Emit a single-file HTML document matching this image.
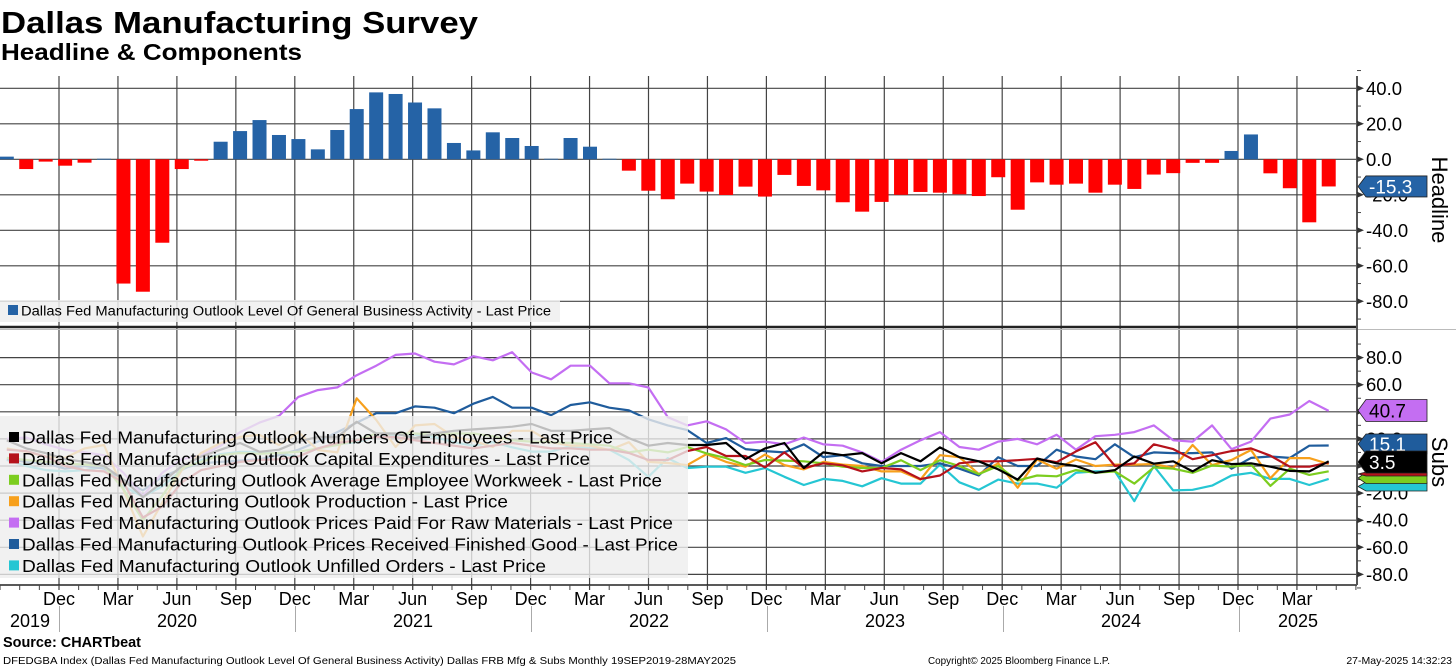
<!DOCTYPE html>
<html><head><meta charset="utf-8">
<style>
html,body{margin:0;padding:0;background:#fff;}
body{width:1456px;height:668px;overflow:hidden;font-family:"Liberation Sans",sans-serif;}
svg{display:block;}
</style></head>
<body>
<svg id="chart" width="1456" height="668" viewBox="0 0 1456 668" xmlns="http://www.w3.org/2000/svg" font-family="Liberation Sans, sans-serif">
  <text x="1" y="33" font-size="31" font-weight="bold" fill="#000" textLength="477" lengthAdjust="spacingAndGlyphs">Dallas Manufacturing Survey</text>
  <text x="1" y="60" font-size="23" font-weight="bold" fill="#000" textLength="301" lengthAdjust="spacingAndGlyphs">Headline &amp; Components</text>
  <g id="grid"></g>
  <g id="bars"></g>
  <g id="lines"></g>
  <g id="legends"></g>
  <g id="axes"></g>
  <text x="3" y="647" font-size="15" font-weight="bold" fill="#000" textLength="138" lengthAdjust="spacingAndGlyphs">Source: CHARTbeat</text>
  <text x="3" y="664" font-size="10.5" fill="#000" textLength="733" lengthAdjust="spacingAndGlyphs">DFEDGBA Index (Dallas Fed Manufacturing Outlook Level Of General Business Activity) Dallas FRB Mfg &amp; Subs  Monthly 19SEP2019-28MAY2025</text>
  <text x="928" y="664" font-size="10.5" fill="#000" textLength="182" lengthAdjust="spacingAndGlyphs">Copyright© 2025 Bloomberg Finance L.P.</text>
  <text x="1452" y="664" font-size="10.5" fill="#000" text-anchor="end">27-May-2025 14:32:23</text>
</svg>
<script>
const headline = [1.5,-5.5,-1.3,-3.6,-1.9,0.3,-70,-74.6,-47,-5.5,-0.8,9.9,15.9,22.1,13.7,11.4,5.6,16.5,28.3,37.7,36.8,32,28.7,9.2,5,15.2,12,7.5,0.3,12,7.1,0.3,-6.4,-17.7,-22.5,-13.7,-18.2,-20.1,-15.4,-21,-8.8,-15,-17.5,-24.2,-29.5,-24,-20,-18.4,-18.8,-19.7,-20.7,-10.1,-28.4,-13,-14.3,-13.7,-18.8,-14.3,-16.7,-8.6,-7.8,-2,-2,4.7,14,-7.9,-16.3,-35.5,-15.3];
const employment = [19,13,9.5,5,3,0,-10,-23,-12,0,7,12,17,10.5,12,18,21.5,21.5,32.6,24,24,20.6,24,26,27,28,29,31,26,26,27,28,20.6,15,17,15.5,15.5,17,5,13,17,-1.5,10,8,9.5,2,9.5,3.5,13.7,6.5,3.5,-2.5,-10,5.5,2,0,-5,-3,7,1.7,3.5,-4,4.3,1.4,2,-0.5,-3.6,-4,3.5];
const capex = [12,11,7,0,-3,-4,-12,-38,-30,-12,-3,0,3,4.4,5,7,13,17,19,21.5,21.5,19,17,15,13,15,17,15,13,13,12,12,9.6,4.4,4.4,11,14,7.4,7.4,-1,10,-1.5,2,0.5,-4,-1.5,-2.5,-9.7,-7,2,3.5,3.5,4.3,5.3,2.8,10.8,17.6,0,2,16,12.5,5,8,11,13,7.6,-0.5,-0.5,2.5];
const workweek = [6,4.4,3,2,1,0,-17,-40,-22,-1.5,3,8,9.6,9,9.6,10.5,13,15.5,19,24,24,24,23,24,24,22,19,18,17.6,17,16,15,10,12,10,14,9.3,5.8,0.7,4.4,4,3.5,2,-0.5,-1.5,-1.5,4.3,-3,4.3,0,-6,0,-10.8,-7,-7.6,-3,-5,-4,-13,-1,-2,-5,0.4,-0.5,1,-14.7,-2,-6.6,-3.9];
const production = [13,10.5,7,6,13,15.5,-17.6,-52,-27,-3,9.6,17,21.5,23,15.5,25,11.8,10,50,34,14,30,31,21.5,18.6,14,26,26,17.6,15,15,11.8,17.6,3,2.2,0.7,8.8,3,-0.5,8.5,0.7,-2.5,3,1,0,-4,-4,-10,8,6.5,-6,2,-16,4.8,-2,4.8,0,1,1,1.5,-1.5,15.5,0.7,4.4,11.8,-9,5.8,5.8,1.5];
const pricesPaid = [20,21,16,12,10,8,-5,-22,-5,5,8,15,25,32,37,51,56,58,67,74,82,83,77,75,81,78,84,69,64,74,74,61,61,58,36,30,33,27,17,18,16,21,16,15,10,3,12,19,25,14,12,18,20,16,23,12,22,23,25,30,19,18,30,12.5,18,35,38,48,40.7];
const pricesReceived = [5,3,2,-2,0,-2,-10,-18,-8,-2,2,3,4,5,8,12,18,25,32,39,39,44,43,39,46,51,43,43,37.5,45,47,43,41,34.5,30,26.5,17,20.6,12.5,11,10,16,6.6,8,2,0,0,0,2,-2,-7,6.5,0,0,12,7,5,16,6.5,10,9.5,9.5,10,-2,6,7,6,15,15.1];
const unfilled = [4.4,0,-3,-4,-3,-0.5,-15,-22.6,-15,-3,4.4,8.8,10.5,10.5,9,7,13,16,17.6,21.5,23,23,21.5,17.6,15,17.6,13.8,10.6,10.6,14.7,13,12,4.4,-8,5.8,-1.5,-0.5,-0.5,-5,-1.5,-8,-14,-9.5,-11,-15,-9,-13,-13,1,-12,-17.6,-10,-13,-13,-16,-5,-4,-4,-26,0,-18,-17.6,-14.5,-7,-5,-9.5,-9.5,-14,-9.5];
const topTicks = [40,20,0,-20,-40,-60,-80];
const bottomTicks = [80,60,40,20,0,-20,-40,-60,-80];
const monthLabels = ["Dec","Mar","Jun","Sep"];
const yearLabels = ["2019","2020","2021","2022","2023","2024","2025"];

const NS = "http://www.w3.org/2000/svg";
function mk(tag, attrs, parent){const e=document.createElementNS(NS,tag);for(const k in attrs)e.setAttribute(k,attrs[k]);parent.appendChild(e);return e;}
const xOf = i => 6.8 + 19.44*i;
const yTop = v => 159.3 - 1.775*v;
const yBot = v => 466 - 1.355*v;
const PR = 1357;
const grid = document.getElementById('grid');
const bars = document.getElementById('bars');
const lines = document.getElementById('lines');
const legends = document.getElementById('legends');
const axes = document.getElementById('axes');

for(let k=0;k<22;k++){
  const x = 59 + 58.95*k;
  const l = mk('line',{x1:x,x2:x,y1:76,y2:590,stroke:'#444','stroke-width':1.2},grid);
  
  
}
topTicks.forEach(v=>{
  const l = mk('line',{x1:0,x2:PR,y1:yTop(v),y2:yTop(v),stroke:'#444','stroke-width':1.2},grid);
  
  
});
bottomTicks.forEach(v=>{
  const l = mk('line',{x1:0,x2:PR,y1:yBot(v),y2:yBot(v),stroke:'#444','stroke-width':1.2},grid);
  
  
});

headline.forEach((v,i)=>{
  const y0=yTop(0), y1=yTop(v);
  const r = mk('rect',{x:xOf(i)-7,y:Math.min(y0,y1),width:14,height:Math.max(0.8,Math.abs(y1-y0)),fill:v>=0?'#2563a6':'#ff0000'},bars);
  
  
});

const series = [
  {d:unfilled,c:'#25c6d3',n:'unfilled-orders-line'},
  {d:pricesReceived,c:'#1f5c9c',n:'prices-received-line'},
  {d:pricesPaid,c:'#c46ef2',n:'prices-paid-line'},
  {d:production,c:'#f7a01c',n:'production-line'},
  {d:workweek,c:'#7ccd1f',n:'workweek-line'},
  {d:capex,c:'#b5121b',n:'capex-line'},
  {d:employment,c:'#000000',n:'employment-line'}
];
series.forEach(s=>{
  const pts = s.d.map((v,i)=>xOf(i).toFixed(1)+','+yBot(v).toFixed(1)).join(' ');
  const p = mk('polyline',{points:pts,fill:'none',stroke:s.c,'stroke-width':2.2,'stroke-linejoin':'round'},lines);
  
  
});

const tl = mk('rect',{x:0,y:300,width:560,height:22,fill:'rgba(238,238,238,0.85)'},legends);


mk('rect',{x:8,y:305,width:10,height:10,fill:'#2563a6'},legends);
const tlt = mk('text',{x:21,y:315.5,'font-size':13.5,fill:'#000',textLength:530,lengthAdjust:'spacingAndGlyphs'},legends);
tlt.textContent='Dallas Fed Manufacturing Outlook Level Of General Business Activity - Last Price';



const bl = mk('rect',{x:0,y:416,width:688,height:162,fill:'rgba(238,238,238,0.8)'},legends);


const legItems = [
  ['#000000','Dallas Fed Manufacturing Outlook Numbers Of Employees - Last Price',591],
  ['#b5121b','Dallas Fed Manufacturing Outlook Capital Expenditures - Last Price',568],
  ['#7ccd1f','Dallas Fed Manufacturing Outlook Average Employee Workweek - Last Price',640],
  ['#f7a01c','Dallas Fed Manufacturing Outlook Production - Last Price',486],
  ['#c46ef2','Dallas Fed Manufacturing Outlook Prices Paid For Raw Materials - Last Price',651],
  ['#1f5c9c','Dallas Fed Manufacturing Outlook Prices Received Finished Good - Last Price',656],
  ['#25c6d3','Dallas Fed Manufacturing Outlook Unfilled Orders - Last Price',524]
];
legItems.forEach((it,k)=>{
  const y = 437 + 21.4*k;
  mk('rect',{x:9,y:y-5,width:10,height:10,fill:it[0]},legends);
  const t = mk('text',{x:22,y:y+6.5,'font-size':17.5,fill:'#000',textLength:it[2],lengthAdjust:'spacingAndGlyphs'},legends);
  t.textContent = it[1];
  
  
});

mk('line',{x1:0,x2:PR,y1:327,y2:327,stroke:'#222','stroke-width':2.5},axes);
mk('line',{x1:0,x2:1456,y1:329.5,y2:329.5,stroke:'#bbb','stroke-width':1},axes);
mk('line',{x1:0,x2:PR,y1:585,y2:585,stroke:'#222','stroke-width':1.5},axes);
mk('line',{x1:PR,x2:PR,y1:76,y2:585,stroke:'#555','stroke-width':2},axes);
for(let i=0;i<70;i++){
  const x = 59 + 19.65*i;
  if(x>PR) break;
  mk('line',{x1:x,x2:x,y1:585,y2:590,stroke:'#444','stroke-width':1},axes);
}
for(let i=1;i<=3;i++){const x=59-19.65*i; if(x>0) mk('line',{x1:x,x2:x,y1:585,y2:590,stroke:'#444','stroke-width':1},axes);}
[59,295,531,767,1003,1239].forEach(x=>{
  mk('line',{x1:x+0.5,x2:x+0.5,y1:606,y2:632,stroke:'#aaa','stroke-width':1},axes);
});
for(let k=0;k<22;k++){
  const x = 59 + 58.95*k;
  const t = mk('text',{x:x,y:605,'font-size':18,'text-anchor':'middle',fill:'#000'},axes);
  t.textContent = monthLabels[k%4];
  
  
}
const yearX = [30,177,413,649,885,1121,1298];
yearLabels.forEach((lab,k)=>{
  const t = mk('text',{x:yearX[k],y:627,'font-size':18,'text-anchor':'middle',fill:'#000'},axes);
  t.textContent = lab;
  
  
});
function rightTick(y,label,name){
  mk('polygon',{points:`${PR},${y-3} ${PR+7},${y} ${PR},${y+3}`,fill:'#333'},axes);
  const t = mk('text',{x:PR+9,y:y+6.5,'font-size':18.5,fill:'#000'},axes);
  t.textContent = label;
  
  
}
topTicks.forEach(v=>rightTick(yTop(v),v.toFixed(1),'top-y-tick-label'));
bottomTicks.forEach(v=>rightTick(yBot(v),v.toFixed(1),'bottom-y-tick-label'));
for(let v=-90;v<=50;v+=10){ if(v%20) mk('line',{x1:PR,x2:PR+4,y1:yTop(v),y2:yTop(v),stroke:'#444'},axes); }
for(let v=-90;v<=90;v+=10){ if(v%20) mk('line',{x1:PR,x2:PR+4,y1:yBot(v),y2:yBot(v),stroke:'#444'},axes); }

const ht = mk('text',{x:1432,y:200,'font-size':22,'text-anchor':'middle',fill:'#000',transform:'rotate(90 1432 200)'},axes);
ht.textContent='Headline';


const st = mk('text',{x:1432,y:462,'font-size':22,'text-anchor':'middle',fill:'#000',transform:'rotate(90 1432 462)'},axes);
st.textContent='Subs';



function tag(yc,h,fill,txtColor,label,name){
  const x0=PR+1, x1=1427, yt=yc-h/2, yb=yc+h/2;
  mk('polygon',{points:`${x0},${yc} ${x0+8},${yt} ${x1},${yt} ${x1},${yb} ${x0+8},${yb}`,fill:fill,stroke:'#222','stroke-width':0.8},axes);
  if(label){
    const t = mk('text',{x:x0+11,y:yc+7,'font-size':19,fill:txtColor},axes);
    t.textContent = label;
    
    
  }
}
tag(yTop(headline[68]),21,'#2563a6','#fff','-15.3','headline-last-value-tag');
tag(486.5,9,'#25c6d3','#000','','unfilled-tag');
tag(478,11,'#7ccd1f','#000','','workweek-tag');
tag(474,4,'#b5121b','#000','','capex-tag');
tag(444,20,'#1f5c9c','#fff','15.1','prices-received-tag');
tag(410.5,22,'#c46ef2','#000','40.7','prices-paid-tag');
tag(462,22,'#000','#fff','3.5','employment-tag');
</script>
</body></html>
